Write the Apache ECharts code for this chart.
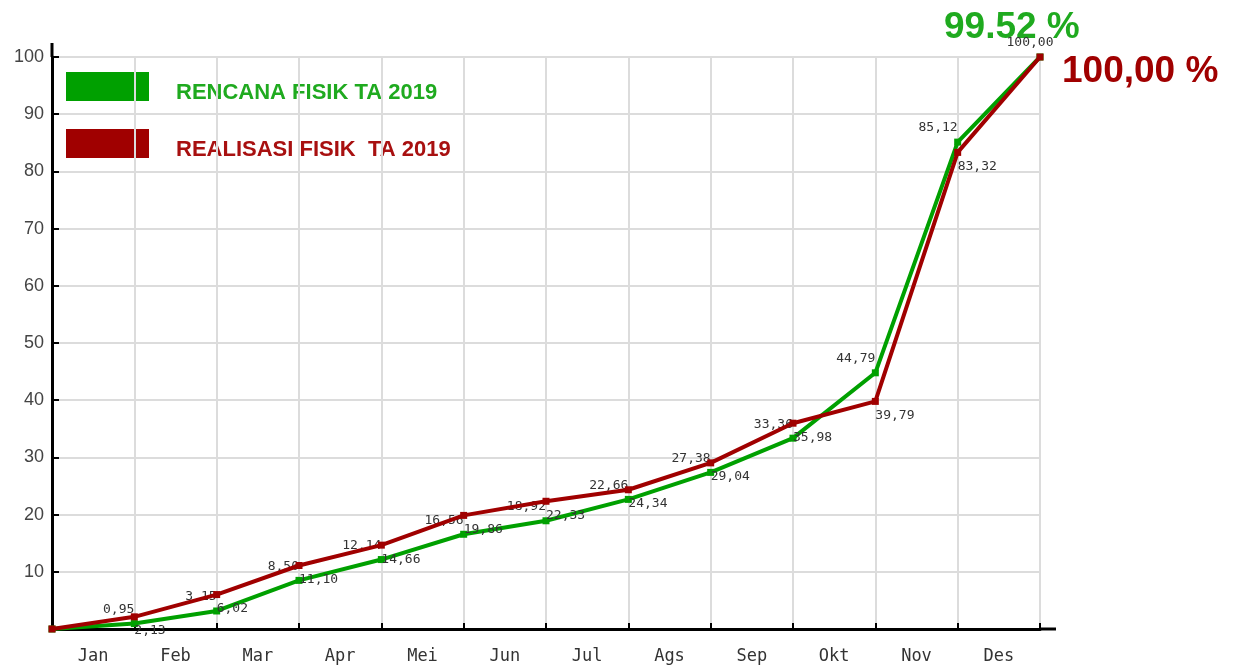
<!DOCTYPE html>
<html>
<head>
<meta charset="utf-8">
<script src="https://cdn.jsdelivr.net/npm/echarts@6/dist/echarts.min.js"></script>
<style>
html,body{margin:0;padding:0;background:#fff;}
#chart{width:1236px;height:667px;}
</style>
</head>
<body>
<div id="chart"></div>
<script>
var months = ['Jan','Feb','Mar','Apr','Mei','Jun','Jul','Ags','Sep','Okt','Nov','Des'];
var rencana = [0, 0.95, 3.15, 8.50, 12.14, 16.56, 18.92, 22.66, 27.38, 33.36, 44.79, 85.12, 100.00];
var realisasi = [0, 2.13, 6.02, 11.10, 14.66, 19.86, 22.33, 24.34, 29.04, 35.98, 39.79, 83.32, 100.00];
var yTicks = [10,20,30,40,50,60,70,80,90,100];
var legendNames = ['RENCANA FISIK TA 2019', 'REALISASI FISIK  TA 2019'];
var bigLabels = ['99.52 %', '100,00 %'];

var GREEN = '#00a000', RED = '#a00000';
function fmt(v){ return v.toFixed(2).replace('.', ','); }

var greenData = rencana.map(function(v,i){
  var d = {value:[i,v]};
  if (i === 0) d.label = {show:false};
  if (i === rencana.length-1) d.label = {align:'center', offset:[-10,0]};
  return d;
});
var redData = realisasi.map(function(v,i){
  var d = {value:[i,v]};
  if (i === 0 || i === realisasi.length-1) d.label = {show:false};
  return d;
});

var chart = echarts.init(document.getElementById('chart'));
chart.setOption({
  animation:false,
  backgroundColor:'#fff',
  grid:{left:52, right:196, top:57, bottom:38},
  xAxis:[{
    type:'value', min:0, max:months.length, interval:1,
    axisLine:{show:true, onZero:false, lineStyle:{color:'#000', width:3}},
    axisTick:{show:true, inside:true, length:6, lineStyle:{color:'#000', width:2}},
    axisLabel:{show:false},
    splitLine:{show:true, lineStyle:{color:'#dcdcdc', width:2}}
  },{
    type:'category', data:months, boundaryGap:true, position:'bottom',
    axisLine:{show:false}, axisTick:{show:false}, splitLine:{show:false},
    axisLabel:{show:true, margin:19, color:'#333', fontFamily:'DejaVu Sans Mono', fontSize:17}
  }],
  yAxis:{
    type:'value', min:0, max:100, interval:10,
    axisLine:{show:true, lineStyle:{color:'#000', width:3}},
    axisTick:{show:true, inside:true, length:7, lineStyle:{color:'#000', width:2}},
    axisLabel:{margin:8, color:'#444', fontFamily:'Liberation Sans', fontSize:18,
      formatter:function(v){ return yTicks.indexOf(v) >= 0 ? String(v) : ''; }},
    splitLine:{show:true, lineStyle:{color:'#dcdcdc', width:2}}
  },
  series:[{
    name:legendNames[0], type:'line', xAxisIndex:0, data:greenData,
    symbol:'rect', symbolSize:7, showAllSymbol:true,
    lineStyle:{color:GREEN, width:4}, itemStyle:{color:GREEN},
    label:{show:true, position:'top', align:'right', distance:4,
      formatter:function(p){ return fmt(p.value[1]); },
      color:'#333', fontFamily:'DejaVu Sans Mono', fontSize:13},
    z:2
  },{
    name:legendNames[1], type:'line', xAxisIndex:0, data:redData,
    symbol:'rect', symbolSize:7, showAllSymbol:true,
    lineStyle:{color:RED, width:4}, itemStyle:{color:RED},
    label:{show:true, position:'bottom', align:'left', distance:4,
      formatter:function(p){ return fmt(p.value[1]); },
      color:'#333', fontFamily:'DejaVu Sans Mono', fontSize:13},
    z:3
  }],
  graphic:[
    {type:'line', shape:{x1:52, y1:43, x2:52, y2:57}, style:{stroke:'#000', lineWidth:3}, silent:true},
    {type:'line', shape:{x1:1040, y1:629, x2:1056, y2:629}, style:{stroke:'#000', lineWidth:3}, silent:true},
    {type:'rect', shape:{x:66, y:72, width:83, height:29}, style:{fill:GREEN}},
    {type:'rect', shape:{x:66, y:129, width:83, height:29}, style:{fill:RED}},
    {type:'text', left:176, top:82, style:{text:legendNames[0], fill:'#1faa1f', font:'bold 22px "Liberation Sans", Arial, sans-serif'}},
    {type:'text', left:176, top:139, style:{text:legendNames[1], fill:'#a81010', font:'bold 22px "Liberation Sans", Arial, sans-serif'}},
    {type:'text', left:944, top:9, style:{text:bigLabels[0], fill:'#1faa1f', font:'bold 37px "Liberation Sans", Arial, sans-serif'}},
    {type:'text', left:1062, top:53, style:{text:bigLabels[1], fill:'#a00000', font:'bold 37px "Liberation Sans", Arial, sans-serif'}}
  ]
});
</script>
</body>
</html>
